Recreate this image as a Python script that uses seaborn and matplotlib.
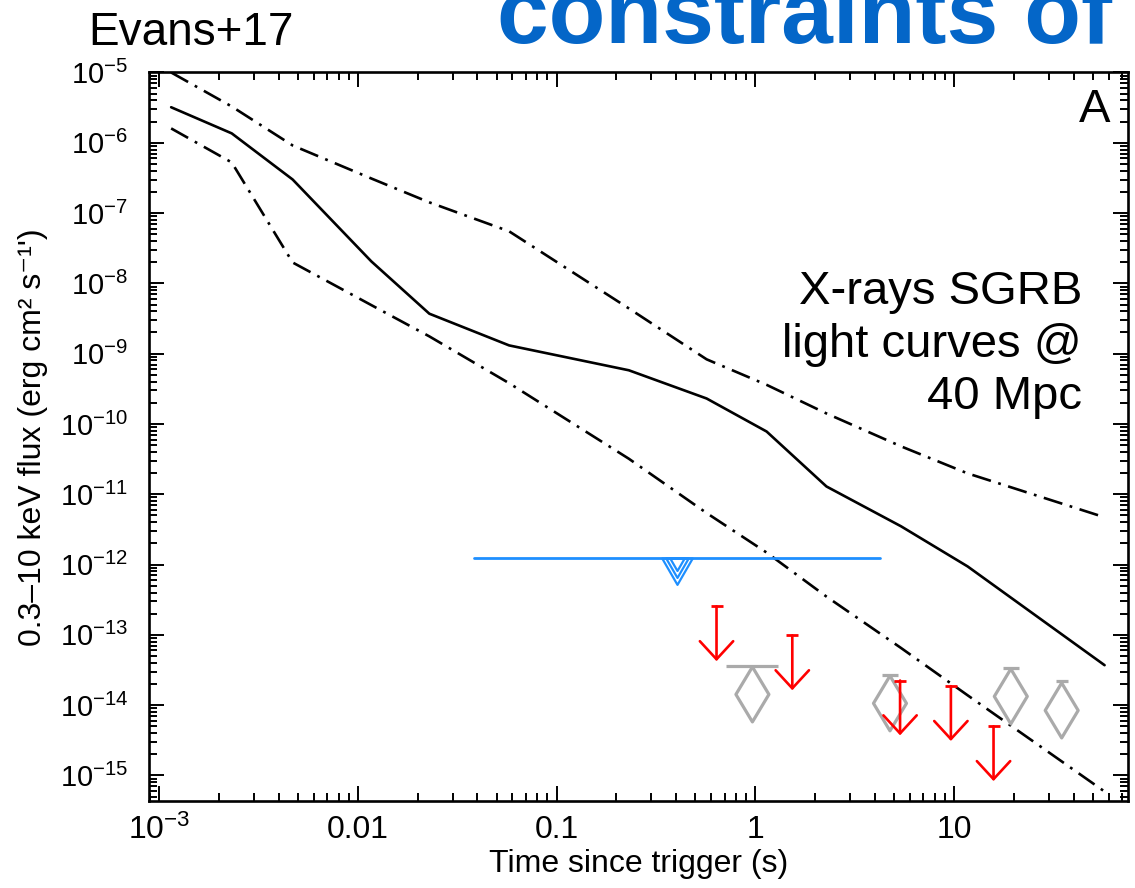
import numpy as np
import pandas as pd
import matplotlib
matplotlib.use("Agg")
import matplotlib.pyplot as plt
from matplotlib.path import Path
from matplotlib.ticker import (FixedLocator, FixedFormatter, LogLocator,
                               LogFormatterSciNotation, NullFormatter)
import seaborn as sns

# ---- short-GRB X-ray light curves scaled to 40 Mpc (time in s, flux in erg cm^-2 s^-1)
lc_time = [1.15e-3, 2.32e-3, 4.7e-3, 0.0117, 0.0229, 0.0577, 0.231, 0.569,
           1.14, 2.28, 5.41, 11.7, 57.2]
lc_median = [3.2e-6, 1.36e-6, 3.0e-7, 2.05e-8, 3.7e-9, 1.31e-9, 5.8e-10,
             2.3e-10, 7.8e-11, 1.29e-11, 3.5e-12, 9.4e-13, 3.7e-14]
lc_upper = [1.0e-5, 3.28e-6, 9.15e-7, 3.1e-7, 1.42e-7, 5.5e-8, 4.4e-9,
            8.3e-10, 3.6e-10, 1.41e-10, 4.8e-11, 1.98e-11, 4.7e-12]
lc_lower = [1.6e-6, 5.25e-7, 1.98e-8, 4.9e-9, 1.76e-9, 3.8e-10, 3.2e-11,
            5.4e-12, 1.48e-12, 3.5e-13, 6.5e-14, 1.38e-14, 5.9e-16]

# ---- wide-field X-ray upper limit (time window and flux)
xrt_window = [0.0386, 4.25]
xrt_limit = 1.22e-12

# ---- pointed X-ray upper limits (red arrows)
ul_time = [0.638, 1.535, 5.35, 9.64, 15.8]
ul_flux = [2.54e-13, 9.8e-14, 2.24e-14, 1.86e-14, 5.0e-15]

# ---- X-ray detections (grey diamonds) with upper error value
det_time = [0.967, 4.76, 19.3, 34.8]
det_flux = [1.42e-14, 1.06e-14, 1.33e-14, 8.4e-15]
det_flux_hi = [3.55e-14, 2.64e-14, 3.4e-14, 2.18e-14]

# ---- axis ticks
xtick_values = [1e-3, 1e-2, 1e-1, 1, 10]
xtick_labels = ["10$^{-3}$", "0.01", "0.1", "1", "10"]

# ---- styling
BLACK = "#000000"
RED = "#ff0000"
GREY = "#aaaaaa"
XRT_BLUE = "#1e8fff"
TITLE_BLUE = "#0466c8"
ARROW_DEX = 0.78          # drawn length of the upper-limit arrows (decades)
DET_CAP_PT = [38, 12, 12, 8]

sns.set_theme(style="ticks")
plt.rcParams["font.family"] = ["Liberation Sans", "DejaVu Sans"]
plt.rcParams["mathtext.fontset"] = "custom"
plt.rcParams["mathtext.rm"] = "Liberation Sans"
plt.rcParams["mathtext.it"] = "Liberation Sans:italic"
plt.rcParams["mathtext.bf"] = "Liberation Sans:bold"
plt.rcParams["lines.scale_dashes"] = False
plt.rcParams["axes.linewidth"] = 1.9
plt.rcParams["text.color"] = BLACK
plt.rcParams["axes.labelcolor"] = BLACK
plt.rcParams["xtick.color"] = BLACK
plt.rcParams["ytick.color"] = BLACK

fig = plt.figure(figsize=(11.35, 8.88), dpi=100)
ax = fig.add_axes([0.1313, 0.098, 0.8625, 0.8204])
ax.set_xscale("log")
ax.set_yscale("log")
ax.set_xlim(8.9e-4, 75)
ax.set_ylim(4.33e-16, 1e-5)

# light curves: median (solid) and envelope (dash-dot)
curves = pd.DataFrame({
    "time": lc_time * 3,
    "flux": lc_median + lc_upper + lc_lower,
    "curve": ["median"] * len(lc_time) + ["upper"] * len(lc_time) + ["lower"] * len(lc_time),
})
dashdot = (14, 5.5, 2, 5.5)
sns.lineplot(data=curves, x="time", y="flux", units="curve", style="curve",
             dashes={"median": "", "upper": dashdot, "lower": dashdot},
             estimator=None, sort=False, color=BLACK, linewidth=1.9,
             legend=False, ax=ax)

# wide-field limit: horizontal bar with nested hanging triangles
ax.plot(xrt_window, [xrt_limit, xrt_limit], color=XRT_BLUE, lw=2.0,
        solid_capstyle="round", zorder=3)
xrt_mid = np.sqrt(xrt_window[0] * xrt_window[1])
hang_tri = Path([(-1, 0), (1, 0), (0, -1.73), (-1, 0)],
                [Path.MOVETO, Path.LINETO, Path.LINETO, Path.CLOSEPOLY])
for ms in (38, 28, 18):
    ax.plot([xrt_mid], [xrt_limit], marker=hang_tri, ms=ms, mfc="none",
            mec=XRT_BLUE, mew=1.6, ls="none", zorder=3)

# detections: hollow thin diamonds with a cap at the upper error value
det = pd.DataFrame({"time": det_time, "flux": det_flux})
sns.scatterplot(data=det, x="time", y="flux", marker="d", s=28 ** 2,
                facecolor="none", edgecolor=GREY, linewidth=2.3,
                legend=False, ax=ax, zorder=4)
for t, hi, w in zip(det_time, det_flux_hi, DET_CAP_PT):
    ax.plot([t], [hi], marker="_", ms=w, mew=2.3, color=GREY, zorder=4)

# pointed upper limits: capped downward arrows
for t, f in zip(ul_time, ul_flux):
    tip = f / 10 ** ARROW_DEX
    ax.annotate("", xy=(t, tip), xytext=(t, f),
                arrowprops=dict(arrowstyle="->,head_length=1.3,head_width=1.2",
                                mutation_scale=10, color=RED, lw=1.9,
                                shrinkA=0, shrinkB=0),
                zorder=5)
    ax.plot([t], [f], marker="_", ms=8, mew=2.0, color=RED, zorder=5)

# ticks on all four sides, pointing inward
ax.tick_params(which="both", direction="in", top=True, right=True,
               color=BLACK, labelcolor=BLACK)
ax.tick_params(which="major", length=10.5, width=1.4)
ax.tick_params(which="minor", length=5.5, width=1.4)
ax.tick_params(axis="y", which="major", pad=15, labelsize=21)
ax.tick_params(axis="x", which="major", pad=10, labelsize=23)
ax.xaxis.set_major_locator(FixedLocator(xtick_values))
ax.xaxis.set_major_formatter(FixedFormatter(xtick_labels))
ax.xaxis.set_minor_locator(LogLocator(base=10, subs=np.arange(2, 10), numticks=100))
ax.xaxis.set_minor_formatter(NullFormatter())
ax.yaxis.set_major_locator(LogLocator(base=10, numticks=100))
ax.yaxis.set_major_formatter(LogFormatterSciNotation())
ax.yaxis.set_minor_locator(LogLocator(base=10, subs=np.arange(2, 10), numticks=100))
ax.yaxis.set_minor_formatter(NullFormatter())
for sp in ax.spines.values():
    sp.set_color(BLACK)
    sp.set_visible(True)

ax.set_xlabel("Time since trigger (s)", fontsize=23, labelpad=2)
ax.set_ylabel("0.3\u201310 keV flux (erg cm\u00b2 s\u207b\u00b9')", fontsize=23,
              labelpad=8)

# annotations
ax.text(0.9816, 0.978, "A", transform=ax.transAxes, ha="right", va="top",
        fontsize=34)
ax.text(0.953, 0.626, "X-rays SGRB\nlight curves @\n40 Mpc",
        transform=ax.transAxes, ha="right", va="center", multialignment="right",
        fontsize=34, linespacing=1.25)
fig.text(88 / 1135, 1 - 45 / 888, "Evans+17", fontsize=33, va="baseline",
         ha="left")
fig.text(497 / 1135, 1 - 43 / 888, "constraints of", color=TITLE_BLUE,
         fontsize=67, fontweight="bold", va="baseline", ha="left")

fig.savefig("out.png", dpi=100)
